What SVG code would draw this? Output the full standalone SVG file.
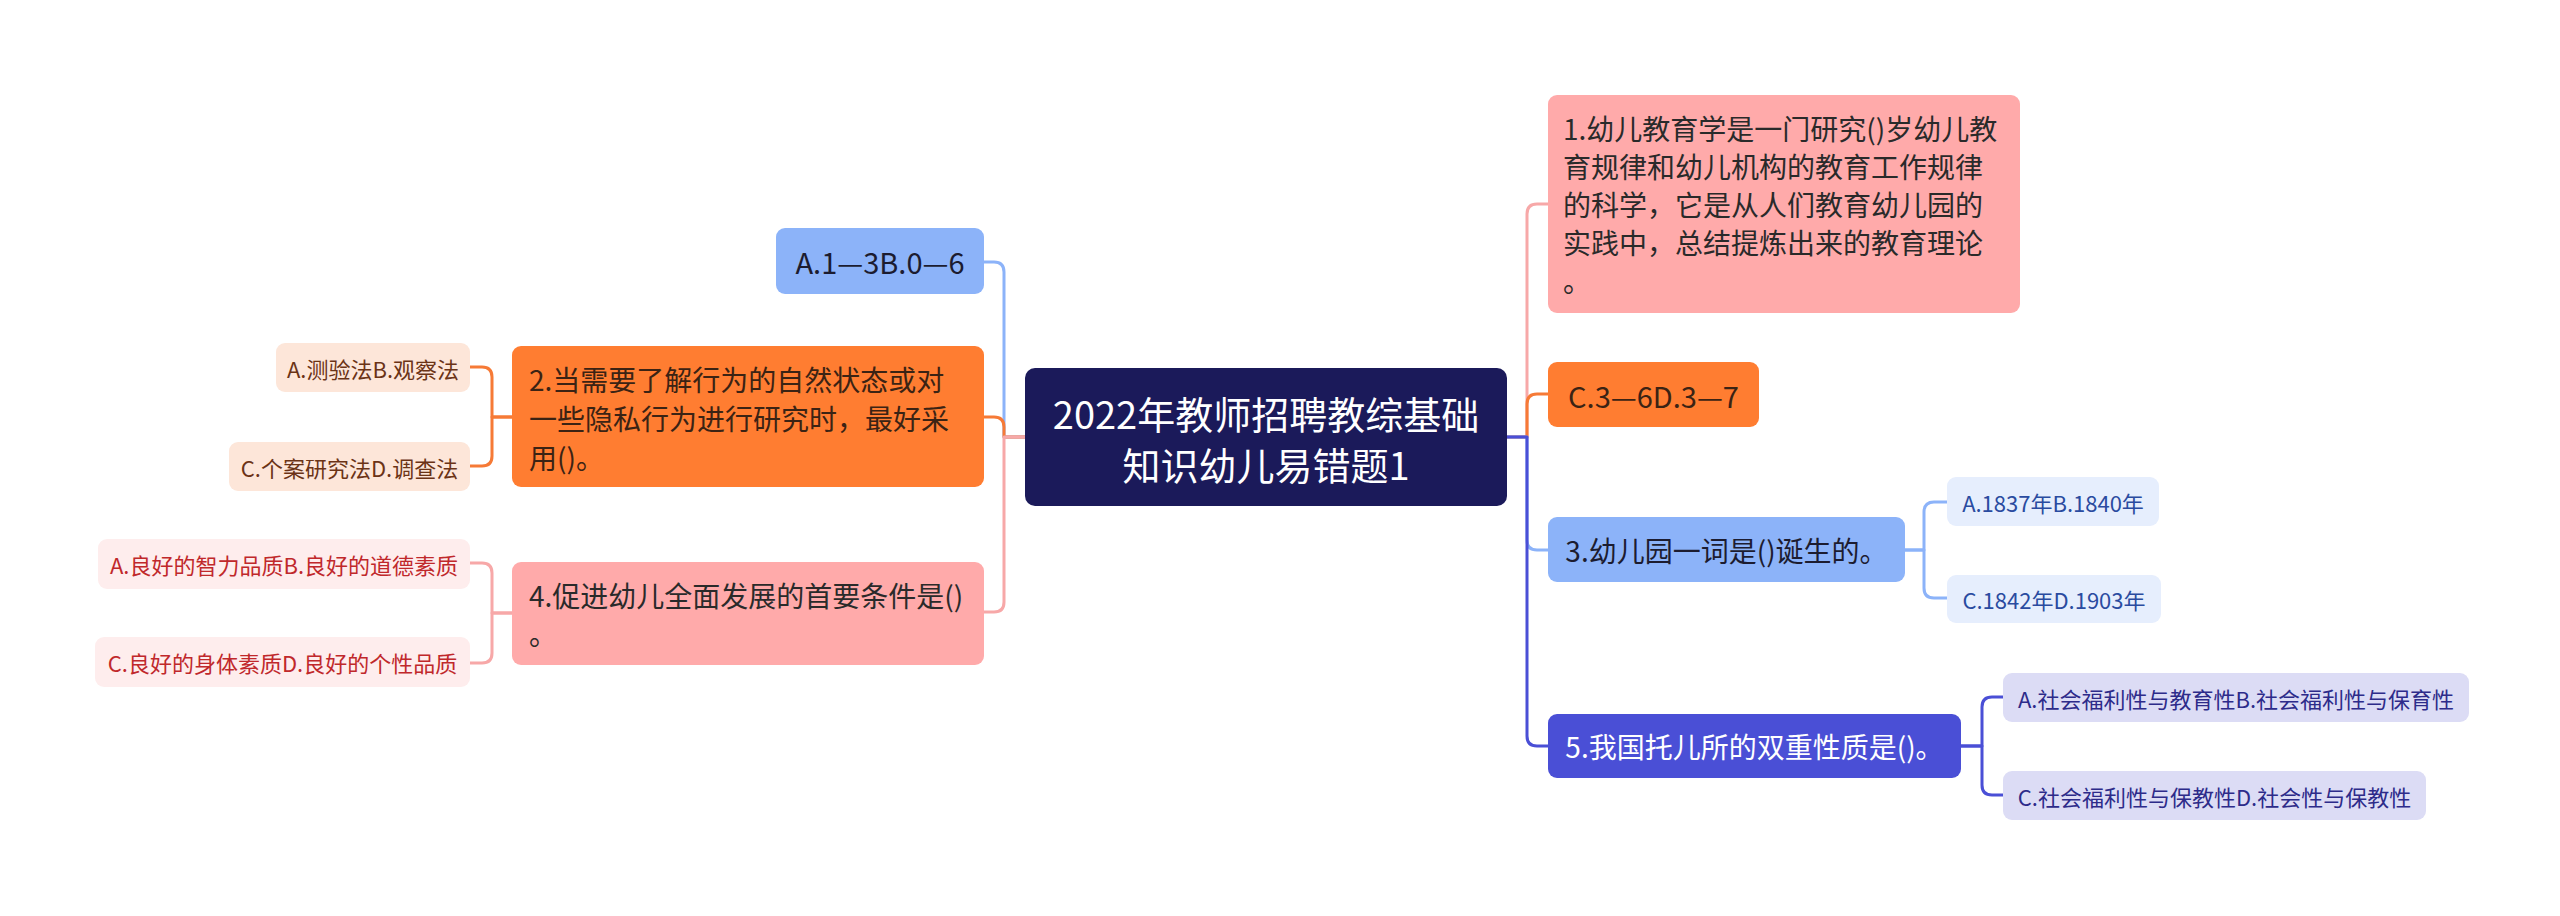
<svg xmlns="http://www.w3.org/2000/svg" width="2560" height="916" viewBox="0 0 2560 916">
<style>
text{font-family:"Noto Sans CJK SC","Noto Sans",sans-serif;dominant-baseline:central}
.c{stroke-width:3;fill:none;stroke-linecap:round;stroke-linejoin:round}
.main{font-size:28px}
.sub{font-size:22px;text-anchor:middle}
.mid{text-anchor:middle}
</style>
<rect width="2560" height="916" fill="#ffffff"/>
<g id="connectors">
<path class="c" stroke="#8CB3F9" d="M1025,437 H1004 V272 Q1004,262 994,262 H984"/>
<path class="c" stroke="#F67A36" d="M1025,437 H1004 V427 Q1004,417 994,417 H984"/>
<path class="c" stroke="#F7A8A8" d="M1025,437 H1004 V602 Q1004,612 994,612 H984"/>
<path class="c" stroke="#F7A8A8" d="M1507,437 H1527 V214 Q1527,204 1537,204 H1548"/>
<path class="c" stroke="#F67A36" d="M1507,437 H1527 V404 Q1527,394 1537,394 H1548"/>
<path class="c" stroke="#8CB3F9" d="M1507,437 H1527 V540 Q1527,550 1537,550 H1548"/>
<path class="c" stroke="#4A4FD6" d="M1507,437 H1527 V736 Q1527,746 1537,746 H1548"/>
<path class="c" stroke="#F67A36" d="M512,417 H492 V377 Q492,367 482,367 H470"/>
<path class="c" stroke="#F67A36" d="M512,417 H492 V456 Q492,466 482,466 H470"/>
<path class="c" stroke="#F7A8A8" d="M512,613 H492 V573 Q492,563 482,563 H470"/>
<path class="c" stroke="#F7A8A8" d="M512,613 H492 V653 Q492,663 482,663 H470"/>
<path class="c" stroke="#8CB3F9" d="M1905,550 H1924 V512 Q1924,502 1934,502 H1947"/>
<path class="c" stroke="#8CB3F9" d="M1905,550 H1924 V588 Q1924,598 1934,598 H1947"/>
<path class="c" stroke="#4A4FD6" d="M1961,746 H1982 V707 Q1982,697 1992,697 H2003"/>
<path class="c" stroke="#4A4FD6" d="M1961,746 H1982 V785 Q1982,795 1992,795 H2003"/>
</g>
<g id="center">
<rect x="1025" y="368" width="482" height="138" rx="10" fill="#1B1A5A"/>
<text x="1266" y="412" font-size="38" fill="#ffffff" text-anchor="middle">2022年教师招聘教综基础</text>
<text x="1266" y="463" font-size="38" fill="#ffffff" text-anchor="middle">知识幼儿易错题1</text>
</g>
<g id="nA1">
<rect x="776" y="228" width="208" height="66" rx="9" fill="#8CB3F9"/>
<text class="mid" x="880" y="261" font-size="29" fill="#1c1c30">A.1—3B.0—6</text>
</g>
<g id="n2">
<rect x="512" y="346" width="472" height="141" rx="9" fill="#FF7D31"/>
<text class="main" x="529" y="379" fill="#3b2314">2.当需要了解行为的自然状态或对</text>
<text class="main" x="529" y="418" fill="#3b2314">一些隐私行为进行研究时，最好采</text>
<text class="main" x="529" y="457" fill="#3b2314">用()。</text>
</g>
<g id="n2a">
<rect x="276" y="343" width="194" height="49" rx="9" fill="#FDE6D9"/>
<text class="sub" x="373" y="367.5" fill="#6B3316">A.测验法B.观察法</text>
</g>
<g id="n2c">
<rect x="229" y="442" width="241" height="49" rx="9" fill="#FDE6D9"/>
<text class="sub" x="349.5" y="466.5" fill="#6B3316">C.个案研究法D.调查法</text>
</g>
<g id="n4">
<rect x="512" y="562" width="472" height="103" rx="9" fill="#FFAAAA"/>
<text class="main" x="529" y="595" fill="#2a2a2a">4.促进幼儿全面发展的首要条件是()</text>
<text class="main" x="529" y="633" fill="#2a2a2a">。</text>
</g>
<g id="n4a">
<rect x="98" y="539" width="372" height="50" rx="9" fill="#FEEDED"/>
<text class="sub" x="284" y="564" fill="#C0282B">A.良好的智力品质B.良好的道德素质</text>
</g>
<g id="n4c">
<rect x="95" y="637" width="375" height="50" rx="9" fill="#FEEDED"/>
<text class="sub" x="282.5" y="662" fill="#C0282B">C.良好的身体素质D.良好的个性品质</text>
</g>
<g id="n1">
<rect x="1548" y="95" width="472" height="218" rx="9" fill="#FFAAAA"/>
<text class="main" x="1563" y="128" fill="#2a2a2a">1.幼儿教育学是一门研究()岁幼儿教</text>
<text class="main" x="1563" y="166" fill="#2a2a2a">育规律和幼儿机构的教育工作规律</text>
<text class="main" x="1563" y="204" fill="#2a2a2a">的科学，它是从人们教育幼儿园的</text>
<text class="main" x="1563" y="242" fill="#2a2a2a">实践中，总结提炼出来的教育理论</text>
<text class="main" x="1563" y="280" fill="#2a2a2a">。</text>
</g>
<g id="nC3">
<rect x="1548" y="362" width="211" height="65" rx="9" fill="#FF7D31"/>
<text class="mid" x="1653.5" y="394.5" font-size="29" fill="#3b2314">C.3—6D.3—7</text>
</g>
<g id="n3">
<rect x="1548" y="517" width="357" height="65" rx="9" fill="#8CB3F9"/>
<text class="main mid" x="1726.5" y="549.5" fill="#1c1c30">3.幼儿园一词是()诞生的。</text>
</g>
<g id="n3a">
<rect x="1947" y="477" width="212" height="49" rx="9" fill="#E6EEFD"/>
<text class="sub" x="2053" y="501.5" fill="#2A4BA0">A.1837年B.1840年</text>
</g>
<g id="n3c">
<rect x="1947" y="575" width="214" height="48" rx="9" fill="#E6EEFD"/>
<text class="sub" x="2054" y="599" fill="#2A4BA0">C.1842年D.1903年</text>
</g>
<g id="n5">
<rect x="1548" y="714" width="413" height="64" rx="9" fill="#4A4FD6"/>
<text class="main mid" x="1754.5" y="746" fill="#ffffff">5.我国托儿所的双重性质是()。</text>
</g>
<g id="n5a">
<rect x="2003" y="673" width="466" height="49" rx="9" fill="#DCDCF5"/>
<text class="sub" x="2236" y="697.5" fill="#2D2B8A">A.社会福利性与教育性B.社会福利性与保育性</text>
</g>
<g id="n5c">
<rect x="2003" y="771" width="423" height="49" rx="9" fill="#DCDCF5"/>
<text class="sub" x="2214.5" y="795.5" fill="#2D2B8A">C.社会福利性与保教性D.社会性与保教性</text>
</g>
</svg>
